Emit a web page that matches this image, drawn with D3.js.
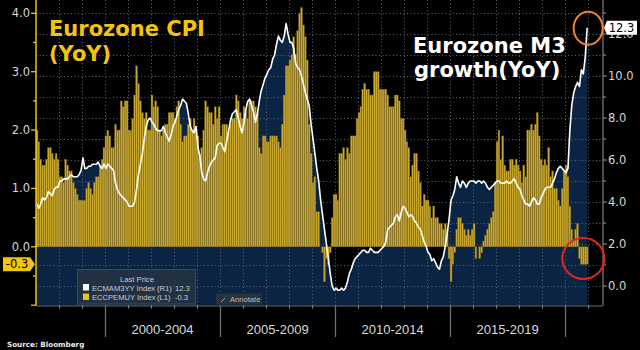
<!DOCTYPE html>
<html>
<head>
<meta charset="utf-8">
<script src="https://cdn.jsdelivr.net/npm/d3@7"></script>
<style>
  body { margin: 0; background: #000; }
  svg { display: block; font-family: "DejaVu Sans", sans-serif; }
</style>
</head>
<body>
<div id="chart-container"></div>
<script>

// monthly data, Jan 1997 .. Dec 2020 (one row per year)

const cpiYoY = [
  2.0, 1.8, 1.5, 1.4, 1.4, 1.5, 1.7, 1.7, 1.6, 1.5, 1.6, 1.5,
  1.2, 1.2, 1.1, 1.5, 1.4, 1.3, 1.3, 1.1, 1.0, 0.9, 0.8, 0.8,
  0.8, 0.8, 1.0, 1.1, 1.0, 0.9, 1.1, 1.2, 1.2, 1.4, 1.5, 1.7,
  1.9, 2.0, 1.9, 1.7, 1.7, 2.1, 2.0, 2.0, 2.5, 2.4, 2.5, 2.5,
  2.0, 2.0, 2.2, 2.6, 3.1, 2.8, 2.5, 2.3, 2.2, 2.3, 2.0, 2.0,
  2.6, 2.4, 2.5, 2.4, 2.0, 1.9, 2.0, 2.1, 2.1, 2.3, 2.3, 2.3,
  2.2, 2.4, 2.5, 2.1, 1.8, 1.9, 1.9, 2.1, 2.2, 2.0, 2.2, 2.0,
  1.9, 1.6, 1.7, 2.0, 2.5, 2.4, 2.3, 2.3, 2.1, 2.4, 2.2, 2.4,
  1.9, 2.1, 2.1, 2.1, 2.0, 2.1, 2.2, 2.2, 2.6, 2.5, 2.3, 2.2,
  2.4, 2.3, 2.2, 2.5, 2.5, 2.5, 2.4, 2.3, 1.7, 1.6, 1.9, 1.9,
  1.8, 1.8, 1.9, 1.9, 1.9, 1.9, 1.8, 1.7, 2.1, 2.6, 3.1, 3.1,
  3.2, 3.3, 3.6, 3.3, 3.7, 4.0, 4.1, 3.8, 3.6, 3.2, 2.1, 1.6,
  1.1, 1.2, 0.6, 0.6, 0.0, -0.1, -0.6, -0.2, -0.3, -0.1, 0.5, 0.9,
  0.9, 0.8, 1.6, 1.6, 1.7, 1.5, 1.7, 1.6, 1.9, 1.9, 1.9, 2.2,
  2.3, 2.4, 2.7, 2.8, 2.7, 2.7, 2.6, 2.6, 3.0, 3.0, 3.0, 2.7,
  2.7, 2.7, 2.7, 2.6, 2.4, 2.4, 2.4, 2.6, 2.6, 2.5, 2.2, 2.2,
  2.0, 1.8, 1.7, 1.2, 1.4, 1.6, 1.6, 1.3, 1.1, 0.7, 0.9, 0.8,
  0.8, 0.7, 0.5, 0.7, 0.5, 0.5, 0.4, 0.4, 0.3, 0.4, 0.3, -0.2,
  -0.6, -0.3, -0.1, 0.3, 0.5, 0.5, 0.4, 0.3, 0.2, 0.3, 0.2, 0.3,
  0.4, -0.2, 0.0, -0.2, -0.1, 0.1, 0.2, 0.3, 0.4, 0.5, 0.6, 1.1,
  1.8, 2.0, 1.5, 1.9, 1.4, 1.3, 1.3, 1.5, 1.5, 1.4, 1.5, 1.4,
  1.3, 1.1, 1.4, 1.2, 2.0, 2.0, 2.1, 2.0, 2.1, 2.3, 1.9, 1.5,
  1.4, 1.5, 1.4, 1.7, 1.2, 1.3, 1.0, 1.0, 0.8, 0.7, 1.0, 1.3,
  1.4, 1.2, 0.7, 0.3, 0.1, 0.3, 0.4, -0.2, -0.3, -0.3, -0.3, -0.3
];

const m3YoY = [
  3.9, 3.7, 3.9, 4.2, 4.1, 4.2, 4.5, 4.4, 4.3, 4.6, 4.7, 4.7,
  5.0, 5.0, 5.1, 5.1, 5.1, 5.2, 5.3, 5.2, 5.2, 5.2, 5.3, 5.5,
  6.1, 5.6, 5.6, 5.7, 5.7, 5.8, 5.8, 5.8, 5.9, 5.7, 5.6, 5.8,
  5.6, 5.8, 5.7, 5.6, 5.5, 4.9, 4.6, 4.4, 4.3, 4.2, 4.1, 4.0,
  3.8, 3.8, 3.8, 4.0, 4.6, 5.3, 5.8, 6.3, 7.0, 7.6, 7.9, 8.0,
  7.8, 7.7, 7.5, 7.4, 7.4, 7.4, 7.6, 7.3, 7.1, 6.9, 7.2, 7.6,
  7.8, 8.1, 8.4, 8.6, 8.9, 8.8, 8.7, 8.2, 7.6, 7.4, 7.3, 7.6,
  6.6, 6.2, 5.4, 5.1, 5.0, 5.4, 5.7, 5.9, 6.0, 6.1, 6.7, 6.8,
  6.8, 6.6, 6.4, 6.9, 7.4, 7.9, 8.2, 8.3, 8.4, 8.0, 7.6, 7.3,
  7.8, 8.4, 8.8, 8.9, 8.6, 8.3, 7.8, 8.2, 8.8, 9.3, 9.6, 9.9,
  10.1, 10.3, 10.4, 10.8, 11.0, 11.5, 11.9, 11.7, 11.6, 11.9, 12.5, 12.0,
  11.6, 11.6, 11.3, 10.6, 10.4, 10.3, 10.0, 9.6, 9.2, 8.9, 8.6, 7.7,
  7.0, 6.3, 5.6, 5.0, 4.1, 3.4, 2.7, 2.0, 1.3, 0.6, 0.0, -0.2,
  -0.1, -0.2, -0.2, -0.1, -0.2, -0.1, 0.2, 0.6, 0.8, 1.1, 1.3, 1.4,
  1.5, 1.6, 1.7, 1.7, 1.6, 1.6, 1.8, 1.7, 1.6, 1.6, 1.6, 1.7,
  1.8, 1.9, 2.1, 2.7, 2.8, 2.9, 3.0, 3.3, 3.4, 3.1, 3.5, 3.8,
  3.7, 3.5, 3.3, 3.4, 3.3, 3.1, 3.0, 2.8, 2.7, 2.4, 2.1, 1.9,
  1.6, 1.5, 1.2, 1.3, 1.1, 0.9, 0.8, 1.2, 1.4, 1.9, 2.5, 3.2,
  4.1, 4.3, 4.6, 5.2, 4.9, 4.7, 5.0, 4.9, 4.7, 4.9, 5.0, 5.0,
  5.0, 4.9, 5.0, 5.0, 4.9, 5.0, 4.9, 4.7, 4.6, 4.7, 4.8, 4.9,
  5.0, 5.0, 4.9, 4.9, 4.9, 5.0, 4.9, 4.9, 5.0, 5.1, 4.9, 4.7,
  4.6, 4.3, 4.1, 3.9, 3.9, 3.8, 4.0, 4.2, 4.1, 3.9, 3.9, 4.2,
  4.4, 4.6, 4.7, 4.7, 4.7, 4.9, 5.1, 5.4, 5.6, 5.7, 5.6, 5.5,
  5.4, 5.6, 7.4, 8.6, 9.2, 9.5, 9.7, 9.5, 10.3, 10.1, 10.9, 12.3
];

const periodLabels = ["2000-2004", "2005-2009", "2010-2014", "2015-2019"];
const periodBreaks = [2000, 2005, 2010, 2015, 2020];
const leftTicks = [0, 1, 2, 3, 4];
const rightTicks = [0, 2, 4, 6, 8, 10, 12];
const lastM3 = "12.3";
const lastCpi = "-0.3";

const width = 640;
const height = 350;
const plotLeft = 36, plotRight = 603, plotBottom = 305.5;

const months = d3.timeMonth.range(new Date(1997, 0, 1), new Date(2021, 0, 1));

const x = d3.scaleTime()
  .domain([new Date(1997, 0, 1), new Date(2021, 7, 25)])
  .range([plotLeft, plotRight]);

const yL = d3.scaleLinear().domain([-1, 4]).range([305.2, 13.3]);
const yR = d3.scaleLinear().domain([0, 12]).range([286, 34]);

const x0 = i => x(months[i]);
const x1 = i => x(d3.timeMonth.offset(months[i], 1));
const xm = i => (x0(i) + x1(i)) / 2;

const svg = d3.select("#chart-container")
  .append("svg")
    .attr("width", width)
    .attr("height", height);

svg.append("rect").attr("width", width).attr("height", height).attr("fill", "#000");

// navy area under the M3 line

const area = d3.area()
  .x((d, i) => i === 0 ? plotLeft : xm(i))
  .y0(plotBottom)
  .y1(d => yR(d));

svg.append("path")
  .datum(m3YoY)
  .attr("fill", "#0b2444")
  .attr("d", area);

// dotted grid

const grid = svg.append("g")
  .attr("stroke", "#5a6470")
  .attr("stroke-width", 1)
  .attr("stroke-dasharray", "1,2.5");

d3.range(1998, 2022).forEach(yr => {
  const gx = Math.round(x(new Date(yr, 0, 1))) + 0.5;
  grid.append("line").attr("x1", gx).attr("x2", gx).attr("y1", 0).attr("y2", plotBottom);
});

d3.range(0, 14).forEach(v => {
  const gy = Math.round(yR(v)) + 0.5;
  grid.append("line").attr("x1", plotLeft).attr("x2", plotRight).attr("y1", gy).attr("y2", gy);
});

// CPI bars

svg.append("g")
  .selectAll("rect")
  .data(cpiYoY)
  .join("rect")
    .attr("x", (d, i) => x0(i))
    .attr("width", (d, i) => x1(i) - x0(i))
    .attr("y", d => Math.min(yL(d), yL(0)))
    .attr("height", d => Math.abs(yL(d) - yL(0)))
    .attr("fill", "#c9a830")
    .attr("stroke", "#6e5a16")
    .attr("stroke-width", 0.35);

// M3 line

const line = d3.line()
  .x((d, i) => xm(i))
  .y(d => yR(d));

svg.append("path")
  .datum(m3YoY)
  .attr("fill", "none")
  .attr("stroke", "#fff")
  .attr("stroke-width", 1.6)
  .attr("stroke-linejoin", "round")
  .attr("d", line);

// left axis (CPI)

svg.append("line")
  .attr("x1", plotLeft).attr("x2", plotLeft)
  .attr("y1", 0).attr("y2", plotBottom)
  .attr("stroke", "#e9c21a").attr("stroke-width", 1.5);

const leftAxis = svg.append("g");
d3.range(-1, 4.01, 0.5).forEach(v => {
  leftAxis.append("line")
    .attr("x1", plotLeft - (v % 1 === 0 ? 5 : 3)).attr("x2", plotLeft)
    .attr("y1", yL(v)).attr("y2", yL(v))
    .attr("stroke", "#e9c21a").attr("stroke-width", 1.3);
});
leftAxis.selectAll("text")
  .data(leftTicks)
  .join("text")
    .attr("x", plotLeft - 6)
    .attr("y", d => yL(d) + 4)
    .attr("text-anchor", "end")
    .attr("fill", "#d6d6d6")
    .attr("font-size", 11.5)
    .text(d => d.toFixed(1));

// right axis (M3)

svg.append("line")
  .attr("x1", plotRight).attr("x2", plotRight)
  .attr("y1", 0).attr("y2", plotBottom)
  .attr("stroke", "#9a9a9a").attr("stroke-width", 1);

const rightAxis = svg.append("g");
d3.range(0, 14).forEach(v => {
  rightAxis.append("line")
    .attr("x1", plotRight).attr("x2", plotRight + (v % 2 === 0 ? 4 : 3))
    .attr("y1", yR(v)).attr("y2", yR(v))
    .attr("stroke", "#9a9a9a");
});
rightAxis.selectAll("text")
  .data(rightTicks)
  .join("text")
    .attr("x", plotRight + 5)
    .attr("y", d => yR(d) + 4)
    .attr("fill", "#d6d6d6")
    .attr("font-size", 11.5)
    .text(d => d.toFixed(1));

// bottom axis

svg.append("line")
  .attr("x1", plotLeft).attr("x2", plotRight)
  .attr("y1", plotBottom + 0.5).attr("y2", plotBottom + 0.5)
  .attr("stroke", "#6a6a6a");

d3.range(1998, 2022).forEach(yr => {
  const tx = Math.round(x(new Date(yr, 0, 1))) + 0.5;
  const long = periodBreaks.includes(yr);
  svg.append("line")
    .attr("x1", tx).attr("x2", tx)
    .attr("y1", plotBottom).attr("y2", long ? 337 : plotBottom + 3)
    .attr("stroke", long ? "#6e6e6e" : "#8a8a8a")
    .attr("stroke-width", long ? 1.3 : 1);
});

svg.append("g")
  .selectAll("text")
  .data(periodLabels)
  .join("text")
    .attr("x", (d, i) => (x(new Date(periodBreaks[i], 0, 1)) + x(new Date(periodBreaks[i + 1], 0, 1))) / 2)
    .attr("y", 334)
    .attr("text-anchor", "middle")
    .attr("fill", "#dadada")
    .attr("font-family", "'Liberation Sans', Arial, sans-serif")
    .attr("font-size", 13)
    .text(d => d);

// last price tags

const cpiTagY = yL(+lastCpi);
svg.append("path")
  .attr("d", `M3,${cpiTagY - 7} H30 L35,${cpiTagY} L30,${cpiTagY + 7} H3 Z`)
  .attr("fill", "#f2c40f");
svg.append("text")
  .attr("x", 17).attr("y", cpiTagY + 4)
  .attr("text-anchor", "middle")
  .attr("fill", "#000").attr("font-size", 11.5)
  .text(lastCpi);

const m3TagY = yR(+lastM3);
svg.append("path")
  .attr("d", `M604,${m3TagY} L607,${m3TagY - 7} H637 V${m3TagY + 7} H607 Z`)
  .attr("fill", "#fff");
svg.append("text")
  .attr("x", 621.5).attr("y", m3TagY + 4)
  .attr("text-anchor", "middle")
  .attr("fill", "#000").attr("font-size", 11.5)
  .text(lastM3);

// highlight circles

svg.append("ellipse")
  .attr("cx", xm(m3YoY.length - 1) + 1).attr("cy", m3TagY + 0.5)
  .attr("rx", 14.5).attr("ry", 16.5)
  .attr("fill", "none").attr("stroke", "#f0822c").attr("stroke-width", 2);

svg.append("ellipse")
  .attr("cx", xm(cpiYoY.length - 3)).attr("cy", yL(-0.2))
  .attr("rx", 21).attr("ry", 20.5)
  .attr("fill", "none").attr("stroke", "#e3241f").attr("stroke-width", 2);

// titles

svg.append("text")
  .attr("x", 49).attr("y", 36)
  .attr("fill", "#f4c30d").attr("font-size", 21).attr("font-weight", "bold")
  .text("Eurozone CPI");
svg.append("text")
  .attr("x", 49).attr("y", 61)
  .attr("fill", "#f4c30d").attr("font-size", 21).attr("font-weight", "bold")
  .text("(YoY)");

svg.append("text")
  .attr("x", 413).attr("y", 53)
  .attr("fill", "#fff").attr("font-size", 21).attr("font-weight", "bold")
  .text("Eurozone M3");
svg.append("text")
  .attr("x", 414).attr("y", 77)
  .attr("fill", "#fff").attr("font-size", 21).attr("font-weight", "bold")
  .text("growth(YoY)");

// legend box

const legend = svg.append("g").attr("font-family", "'Liberation Sans', Arial, sans-serif").attr("font-size", 7.6).attr("fill", "#c9ccd0");
legend.append("rect")
  .attr("x", 77.5).attr("y", 269.5).attr("width", 118).attr("height", 34.5)
  .attr("fill", "#2a3644").attr("fill-opacity", 0.75)
  .attr("stroke", "#3e4a58");
legend.append("text").attr("x", 137).attr("y", 281.5).attr("text-anchor", "middle").text("Last Price");
legend.append("rect").attr("x", 83).attr("y", 284).attr("width", 6).attr("height", 6.5).attr("fill", "#fff");
legend.append("rect").attr("x", 83).attr("y", 293.5).attr("width", 6).attr("height", 6.5).attr("fill", "#e9c21a");
legend.append("text").attr("x", 92).attr("y", 290.5).text("ECMAM3YY Index");
legend.append("text").attr("x", 157).attr("y", 290.5).text("(R1)");
legend.append("text").attr("x", 175).attr("y", 290.5).text(lastM3);
legend.append("text").attr("x", 92).attr("y", 300).text("ECCPEMUY Index");
legend.append("text").attr("x", 157).attr("y", 300).text("(L1)");
legend.append("text").attr("x", 175).attr("y", 300).text(lastCpi);

// annotate button

svg.append("rect")
  .attr("x", 216).attr("y", 293.5).attr("width", 46).attr("height", 11)
  .attr("fill", "#27333f");
svg.append("line")
  .attr("x1", 221).attr("y1", 302).attr("x2", 225).attr("y2", 298)
  .attr("stroke", "#9aa3ad").attr("stroke-width", 1);
svg.append("text")
  .attr("x", 230).attr("y", 302)
  .attr("font-family", "'Liberation Sans', Arial, sans-serif")
  .attr("font-size", 7.6).attr("fill", "#b8bec5")
  .text("Annotate");

// source

svg.append("text")
  .attr("x", 7).attr("y", 347)
  .attr("fill", "#e8e8e8").attr("font-size", 7.2).attr("font-weight", "bold")
  .text("Source: Bloomberg");

</script>
</body>
</html>
